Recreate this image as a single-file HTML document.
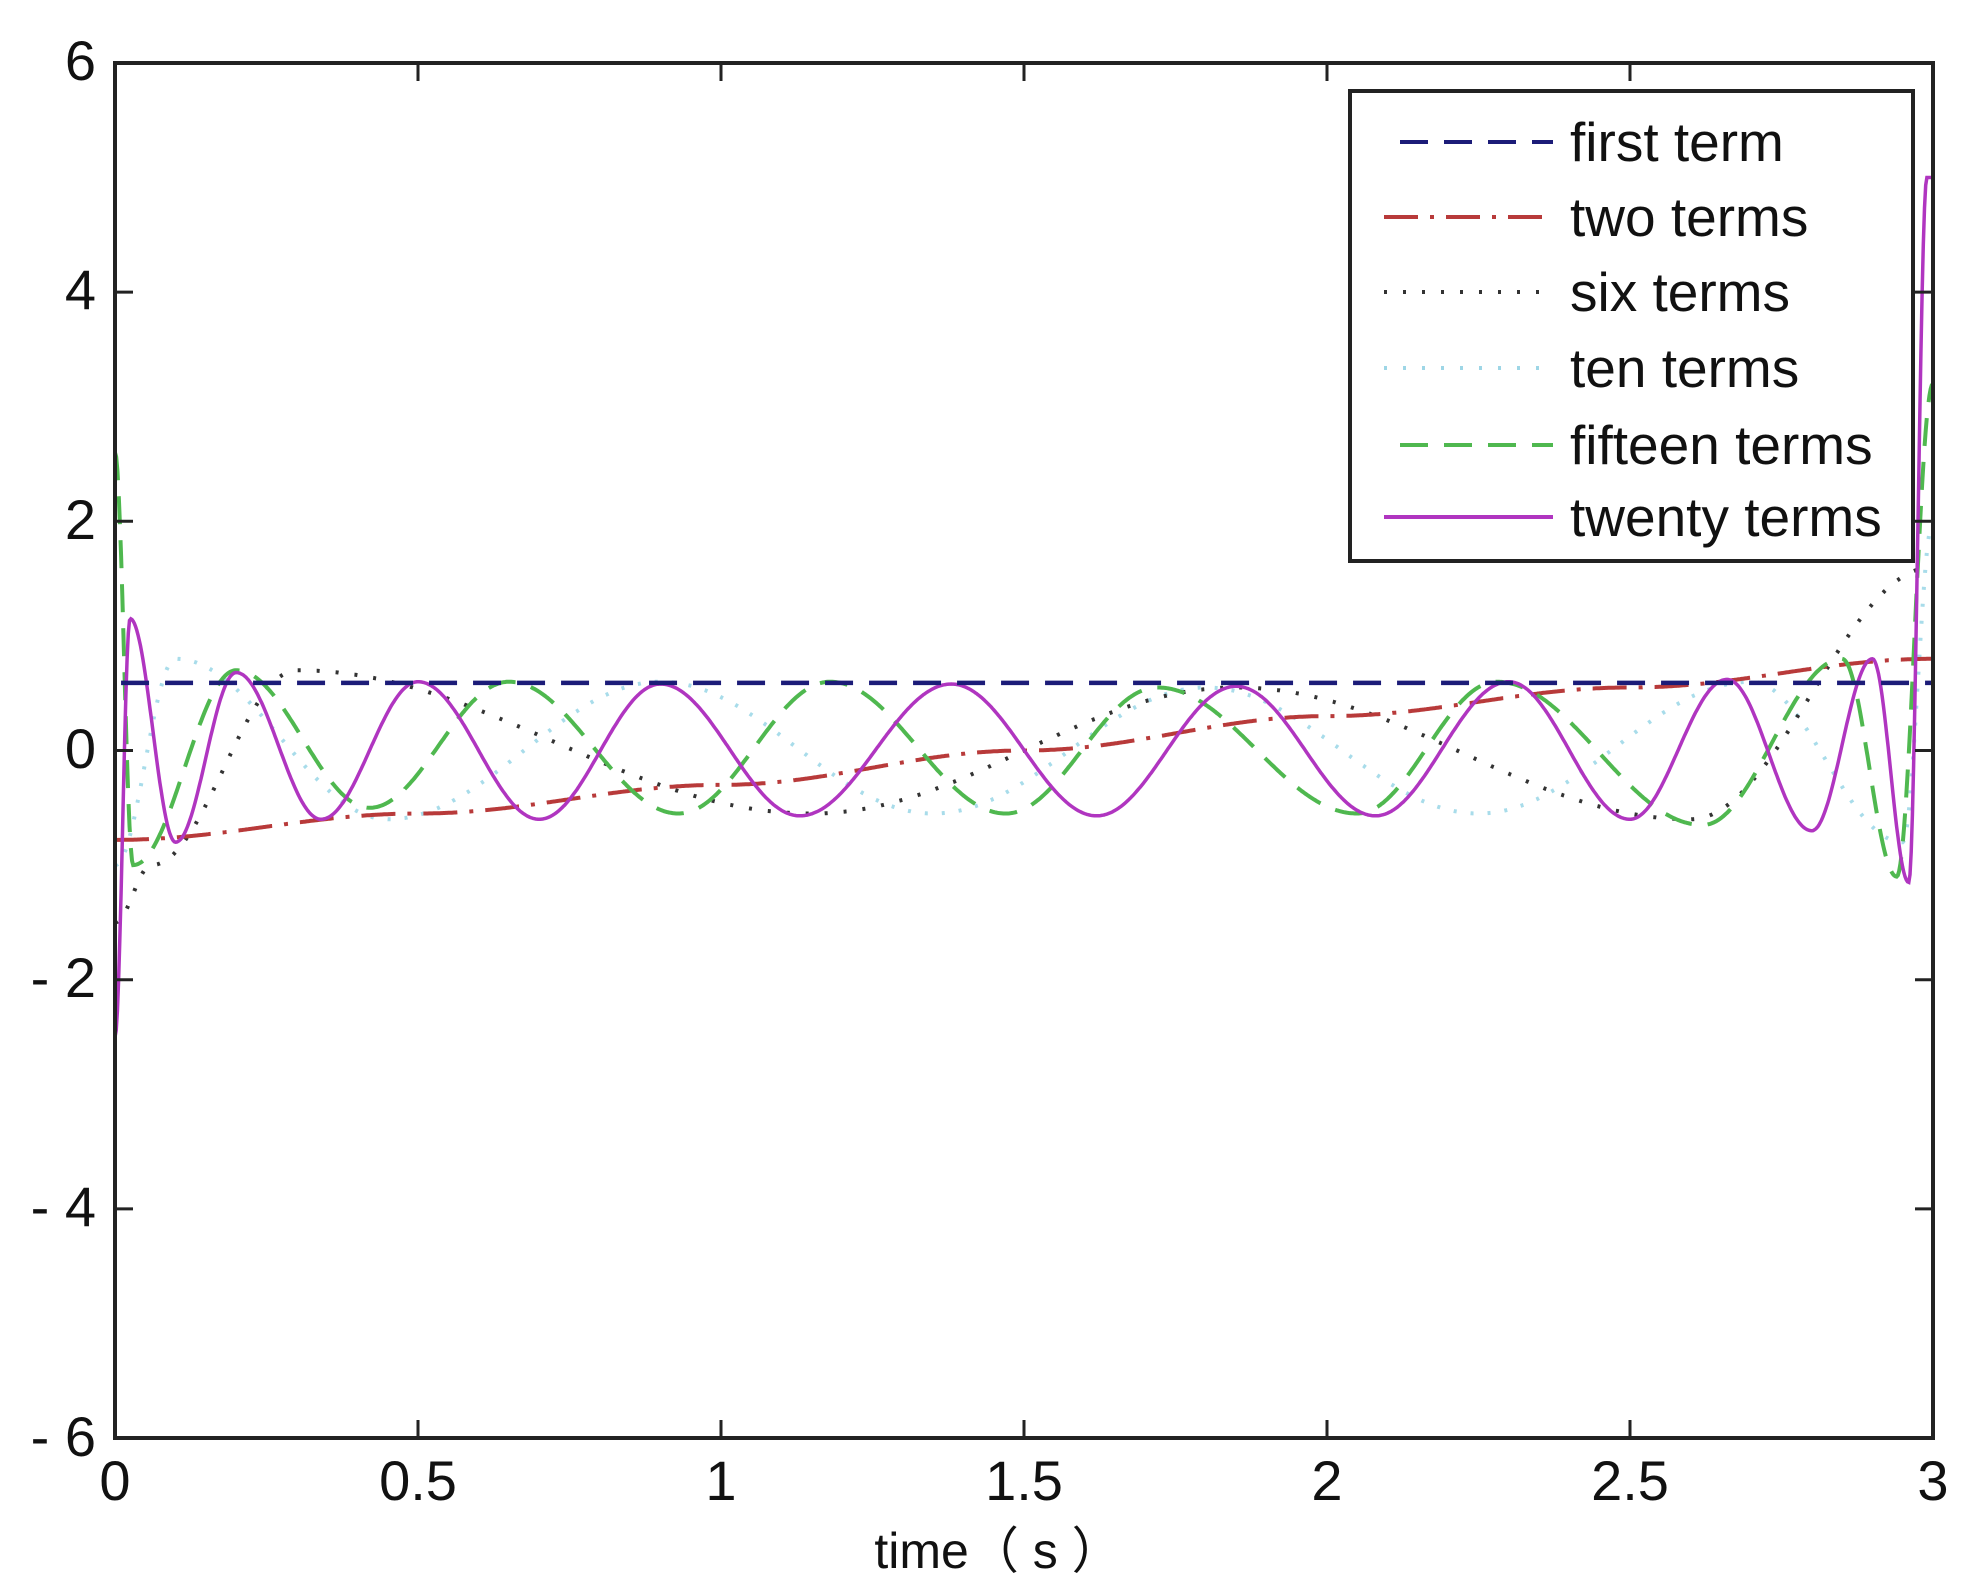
<!DOCTYPE html>
<html><head><meta charset="utf-8"><style>
html,body{margin:0;padding:0;background:#fff;}
svg{display:block;}
text{font-family:"Liberation Sans","Noto Sans CJK SC",sans-serif;fill:#111;}
</style></head><body>
<svg id="s" width="1964" height="1591" viewBox="0 0 1964 1591" xmlns="http://www.w3.org/2000/svg">
<rect width="1964" height="1591" fill="#fff"/>
<g id="curves"></g>
<rect x="115" y="63" width="1818" height="1375" fill="none" stroke="#222" stroke-width="4"/>
<g id="ticks" stroke="#222" stroke-width="3"></g>
<g font-size="56" text-anchor="end">
<text x="96" y="80">6</text>
<text x="96" y="309">4</text>
<text x="96" y="539">2</text>
<text x="96" y="768">0</text>
<text x="96" y="997">- 2</text>
<text x="96" y="1226">- 4</text>
<text x="96" y="1456">- 6</text>
</g>
<g font-size="56" text-anchor="middle">
<text x="115" y="1500">0</text>
<text x="418" y="1500">0.5</text>
<text x="721" y="1500">1</text>
<text x="1024" y="1500">1.5</text>
<text x="1327" y="1500">2</text>
<text x="1630" y="1500">2.5</text>
<text x="1933" y="1500">3</text>
<text x="998" y="1568" font-size="50">time（ s ）</text>
</g>
<rect x="1350" y="91" width="563" height="470" fill="#fff" stroke="#222" stroke-width="4"/>
<g stroke-width="4" fill="none">
<line x1="1400" y1="142" x2="1553" y2="142" stroke="#1c1c78" stroke-dasharray="28,16"/>
<line x1="1384" y1="217" x2="1553" y2="217" stroke="#b83a3a" stroke-dasharray="34,12,4,12"/>
<line x1="1384" y1="292" x2="1553" y2="292" stroke="#333" stroke-dasharray="3,16"/>
<line x1="1384" y1="368" x2="1553" y2="368" stroke="#9ed6e6" stroke-dasharray="3,16"/>
<line x1="1400" y1="445" x2="1553" y2="445" stroke="#4fb84f" stroke-dasharray="28,16"/>
<line x1="1384" y1="517" x2="1553" y2="517" stroke="#b035c0"/>
</g>
<g font-size="55">
<text x="1570" y="161">first term</text>
<text x="1570" y="236">two terms</text>
<text x="1570" y="311">six terms</text>
<text x="1570" y="387">ten terms</text>
<text x="1570" y="464">fifteen terms</text>
<text x="1570" y="536">twenty terms</text>
</g>
</svg>
<script>
(function(){
var NS="http://www.w3.org/2000/svg";
function X(t){return 115+t*606;}
function Y(v){return 750.5-v*114.6;}
var tk=document.getElementById('ticks');
function ln(a,b,c,d){var l=document.createElementNS(NS,'line');l.setAttribute('x1',a);l.setAttribute('y1',b);l.setAttribute('x2',c);l.setAttribute('y2',d);tk.appendChild(l);}
for(var i=0;i<=6;i++){var x=X(i*0.5);ln(x,1438,x,1420);ln(x,63,x,81);}
for(var v=-6;v<=6;v+=2){var y=Y(v);ln(115,y,133,y);ln(1933,y,1915,y);}
function interp(pts,t){
  for(var i=0;i<pts.length-1;i++){
    if(t<=pts[i+1][0]){var a=pts[i],b=pts[i+1];var f=(t-a[0])/(b[0]-a[0]);f=(1-Math.cos(Math.PI*f))/2;return a[1]+(b[1]-a[1])*f;}
  }
  return pts[pts.length-1][1];
}
function path(pts,color,dash,w){
  var d="";var n=1500;
  for(var i=0;i<=n;i++){var t=3*i/n;var v=interp(pts,t);d+=(i?"L":"M")+X(t).toFixed(1)+","+Y(v).toFixed(1);}
  var p=document.createElementNS(NS,'path');p.setAttribute('d',d);p.setAttribute('fill','none');p.setAttribute('stroke',color);p.setAttribute('stroke-width',w||3.5);
  if(dash)p.setAttribute('stroke-dasharray',dash);
  document.getElementById('curves').appendChild(p);
}
var ten=[[0,-1],[0.1,0.8],[0.45,-0.6],[0.9,0.6],[1.35,-0.55],[1.8,0.55],[2.25,-0.55],[2.7,0.6],[2.95,-0.8],[3,2]];
var six=[[0,-1.5],[0.06,-1.0],[0.3,0.7],[1.15,-0.55],[1.85,0.55],[2.6,-0.6],[3.0,1.6]];
var two=[[0,-0.78],[0.5,-0.55],[1,-0.3],[1.5,0],[2,0.3],[2.5,0.55],[3,0.8]];
var fif=[[0,2.6],[0.03,-1.0],[0.2,0.7],[0.42,-0.5],[0.65,0.6],[0.93,-0.55],[1.18,0.6],[1.47,-0.55],[1.72,0.55],[2.05,-0.55],[2.28,0.6],[2.62,-0.65],[2.85,0.8],[2.94,-1.1],[3.0,3.2]];
var tw=[[0,-2.5],[0.025,1.15],[0.1,-0.8],[0.2,0.68],[0.34,-0.6],[0.5,0.6],[0.7,-0.6],[0.9,0.58],[1.13,-0.57],[1.38,0.58],[1.62,-0.57],[1.85,0.56],[2.08,-0.57],[2.3,0.6],[2.5,-0.6],[2.66,0.62],[2.8,-0.7],[2.9,0.8],[2.96,-1.15],[2.99,5.0],[3,5.0]];
path(ten,"#a8dcea","3,14",4);
path(six,"#333","3,16",4);
path(two,"#b83a3a","34,12,4,12",4);
path(fif,"#4fb84f","28,16",4);
path(tw,"#b035c0",null,3.5);
var f=document.createElementNS(NS,'line');f.setAttribute('x1',X(0.01));f.setAttribute('x2',X(3));f.setAttribute('y1',Y(0.59));f.setAttribute('y2',Y(0.59));f.setAttribute('stroke','#1c1c78');f.setAttribute('stroke-width',4.5);f.setAttribute('stroke-dasharray','28,16');
document.getElementById('curves').appendChild(f);
})();
</script>
</body></html>
